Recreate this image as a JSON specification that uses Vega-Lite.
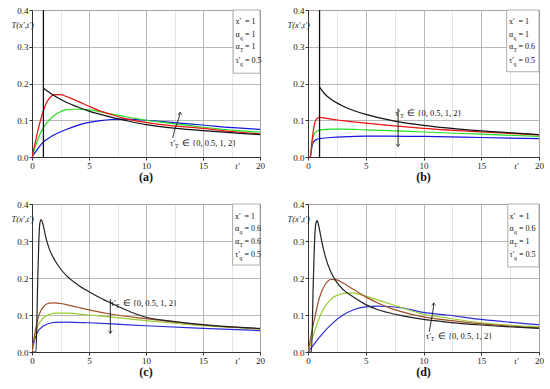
{
  "$schema": "https://vega.github.io/schema/vega-lite/v6.json",
  "padding": {"left": 10, "top": 5, "right": 0, "bottom": 0},
  "columns": 2,
  "bounds": "flush",
  "spacing": {"row": 47, "column": 48},
  "resolve": {"scale": {"color": "independent", "x": "independent", "y": "independent"}},
  "config": {
    "font": "Liberation Serif",
    "view": {"stroke": "#333", "strokeWidth": 1},
    "axis": {"labelFont": "Liberation Serif", "labelFontSize": 9, "labelColor": "#222", "titleFont": "Liberation Serif", "titleFontWeight": "normal", "titleFontStyle": "italic", "titleFontSize": 9, "titleColor": "#222", "gridColor": "#b0b0b0", "gridWidth": 0.9, "domainColor": "#333", "tickColor": "#333", "tickSize": 3, "labelPadding": 1},
    "title": {"orient": "bottom", "font": "Liberation Serif", "fontSize": 12, "fontWeight": "bold", "anchor": "middle", "offset": 2, "color": "#111"},
    "text": {"font": "Liberation Serif", "color": "#111"}
  },
  "datasets": {
    "curves": [
      {"p":"a","s":"2","t":0,"T":0},{"p":"a","s":"2","t":0.5,"T":0.022},{"p":"a","s":"2","t":1,"T":0.041},{"p":"a","s":"2","t":1.5,"T":0.052},{"p":"a","s":"2","t":2,"T":0.061},{"p":"a","s":"2","t":3,"T":0.075},{"p":"a","s":"2","t":4,"T":0.086},{"p":"a","s":"2","t":5,"T":0.094},{"p":"a","s":"2","t":6,"T":0.099},{"p":"a","s":"2","t":7,"T":0.102},{"p":"a","s":"2","t":8,"T":0.103},{"p":"a","s":"2","t":10,"T":0.1},{"p":"a","s":"2","t":12,"T":0.095},{"p":"a","s":"2","t":15,"T":0.087},{"p":"a","s":"2","t":18,"T":0.079},{"p":"a","s":"2","t":20,"T":0.075},
      {"p":"a","s":"1","t":0,"T":0},{"p":"a","s":"1","t":0.25,"T":0.025},{"p":"a","s":"1","t":0.5,"T":0.047},{"p":"a","s":"1","t":1,"T":0.08},{"p":"a","s":"1","t":1.5,"T":0.1},{"p":"a","s":"1","t":2,"T":0.114},{"p":"a","s":"1","t":2.5,"T":0.123},{"p":"a","s":"1","t":3,"T":0.128},{"p":"a","s":"1","t":3.5,"T":0.13},{"p":"a","s":"1","t":4,"T":0.13},{"p":"a","s":"1","t":5,"T":0.128},{"p":"a","s":"1","t":6,"T":0.123},{"p":"a","s":"1","t":7,"T":0.117},{"p":"a","s":"1","t":8,"T":0.111},{"p":"a","s":"1","t":10,"T":0.1},{"p":"a","s":"1","t":12,"T":0.092},{"p":"a","s":"1","t":15,"T":0.081},{"p":"a","s":"1","t":18,"T":0.072},{"p":"a","s":"1","t":20,"T":0.068},
      {"p":"a","s":"0.5","t":0,"T":0},{"p":"a","s":"0.5","t":0.25,"T":0.035},{"p":"a","s":"0.5","t":0.5,"T":0.07},{"p":"a","s":"0.5","t":0.75,"T":0.1},{"p":"a","s":"0.5","t":1,"T":0.126},{"p":"a","s":"0.5","t":1.25,"T":0.146},{"p":"a","s":"0.5","t":1.5,"T":0.159},{"p":"a","s":"0.5","t":2,"T":0.17},{"p":"a","s":"0.5","t":2.5,"T":0.17},{"p":"a","s":"0.5","t":3,"T":0.165},{"p":"a","s":"0.5","t":4,"T":0.152},{"p":"a","s":"0.5","t":5,"T":0.138},{"p":"a","s":"0.5","t":6,"T":0.125},{"p":"a","s":"0.5","t":7,"T":0.115},{"p":"a","s":"0.5","t":8,"T":0.106},{"p":"a","s":"0.5","t":10,"T":0.094},{"p":"a","s":"0.5","t":12,"T":0.086},{"p":"a","s":"0.5","t":15,"T":0.078},{"p":"a","s":"0.5","t":18,"T":0.068},{"p":"a","s":"0.5","t":20,"T":0.063},
      {"p":"a","s":"0","t":1,"T":0.187},{"p":"a","s":"0","t":1.5,"T":0.176},{"p":"a","s":"0","t":2,"T":0.166},{"p":"a","s":"0","t":2.5,"T":0.157},{"p":"a","s":"0","t":3,"T":0.149},{"p":"a","s":"0","t":4,"T":0.136},{"p":"a","s":"0","t":5,"T":0.125},{"p":"a","s":"0","t":6,"T":0.116},{"p":"a","s":"0","t":7,"T":0.108},{"p":"a","s":"0","t":8,"T":0.101},{"p":"a","s":"0","t":10,"T":0.088},{"p":"a","s":"0","t":12,"T":0.08},{"p":"a","s":"0","t":15,"T":0.072},{"p":"a","s":"0","t":18,"T":0.065},{"p":"a","s":"0","t":20,"T":0.061},

      {"p":"b","s":"2","t":0,"T":0},{"p":"b","s":"2","t":0.2,"T":0},{"p":"b","s":"2","t":0.35,"T":0.03},{"p":"b","s":"2","t":0.5,"T":0.042},{"p":"b","s":"2","t":0.75,"T":0.048},{"p":"b","s":"2","t":1,"T":0.05},{"p":"b","s":"2","t":2,"T":0.053},{"p":"b","s":"2","t":3,"T":0.055},{"p":"b","s":"2","t":5,"T":0.057},{"p":"b","s":"2","t":7,"T":0.057},{"p":"b","s":"2","t":10,"T":0.056},{"p":"b","s":"2","t":15,"T":0.053},{"p":"b","s":"2","t":20,"T":0.05},
      {"p":"b","s":"1","t":0,"T":0},{"p":"b","s":"1","t":0.2,"T":0},{"p":"b","s":"1","t":0.35,"T":0.04},{"p":"b","s":"1","t":0.5,"T":0.06},{"p":"b","s":"1","t":0.75,"T":0.07},{"p":"b","s":"1","t":1,"T":0.073},{"p":"b","s":"1","t":1.5,"T":0.075},{"p":"b","s":"1","t":2,"T":0.076},{"p":"b","s":"1","t":3,"T":0.076},{"p":"b","s":"1","t":5,"T":0.074},{"p":"b","s":"1","t":7,"T":0.072},{"p":"b","s":"1","t":10,"T":0.068},{"p":"b","s":"1","t":15,"T":0.062},{"p":"b","s":"1","t":20,"T":0.056},
      {"p":"b","s":"0.5","t":0,"T":0},{"p":"b","s":"0.5","t":0.2,"T":0},{"p":"b","s":"0.5","t":0.35,"T":0.045},{"p":"b","s":"0.5","t":0.5,"T":0.08},{"p":"b","s":"0.5","t":0.75,"T":0.104},{"p":"b","s":"0.5","t":1,"T":0.108},{"p":"b","s":"0.5","t":1.5,"T":0.106},{"p":"b","s":"0.5","t":2,"T":0.103},{"p":"b","s":"0.5","t":3,"T":0.099},{"p":"b","s":"0.5","t":5,"T":0.092},{"p":"b","s":"0.5","t":7,"T":0.086},{"p":"b","s":"0.5","t":10,"T":0.078},{"p":"b","s":"0.5","t":15,"T":0.068},{"p":"b","s":"0.5","t":20,"T":0.06},
      {"p":"b","s":"0","t":1,"T":0.19},{"p":"b","s":"0","t":1.5,"T":0.17},{"p":"b","s":"0","t":2,"T":0.157},{"p":"b","s":"0","t":3,"T":0.139},{"p":"b","s":"0","t":4,"T":0.126},{"p":"b","s":"0","t":5,"T":0.116},{"p":"b","s":"0","t":6,"T":0.108},{"p":"b","s":"0","t":7,"T":0.101},{"p":"b","s":"0","t":8,"T":0.095},{"p":"b","s":"0","t":10,"T":0.086},{"p":"b","s":"0","t":12,"T":0.079},{"p":"b","s":"0","t":15,"T":0.071},{"p":"b","s":"0","t":18,"T":0.065},{"p":"b","s":"0","t":20,"T":0.061},

      {"p":"c","s":"2","t":0,"T":0},{"p":"c","s":"2","t":0.25,"T":0.035},{"p":"c","s":"2","t":0.5,"T":0.055},{"p":"c","s":"2","t":1,"T":0.07},{"p":"c","s":"2","t":1.5,"T":0.077},{"p":"c","s":"2","t":2,"T":0.08},{"p":"c","s":"2","t":3,"T":0.081},{"p":"c","s":"2","t":5,"T":0.079},{"p":"c","s":"2","t":7,"T":0.076},{"p":"c","s":"2","t":10,"T":0.071},{"p":"c","s":"2","t":15,"T":0.064},{"p":"c","s":"2","t":20,"T":0.058},
      {"p":"c","s":"1","t":0,"T":0},{"p":"c","s":"1","t":0.25,"T":0.045},{"p":"c","s":"1","t":0.5,"T":0.07},{"p":"c","s":"1","t":1,"T":0.092},{"p":"c","s":"1","t":1.5,"T":0.101},{"p":"c","s":"1","t":2,"T":0.105},{"p":"c","s":"1","t":3,"T":0.105},{"p":"c","s":"1","t":5,"T":0.1},{"p":"c","s":"1","t":7,"T":0.094},{"p":"c","s":"1","t":10,"T":0.085},{"p":"c","s":"1","t":12,"T":0.079},{"p":"c","s":"1","t":15,"T":0.071},{"p":"c","s":"1","t":20,"T":0.062},
      {"p":"c","s":"0.5","t":0,"T":0},{"p":"c","s":"0.5","t":0.25,"T":0.05},{"p":"c","s":"0.5","t":0.5,"T":0.088},{"p":"c","s":"0.5","t":0.75,"T":0.11},{"p":"c","s":"0.5","t":1,"T":0.122},{"p":"c","s":"0.5","t":1.5,"T":0.132},{"p":"c","s":"0.5","t":2,"T":0.133},{"p":"c","s":"0.5","t":2.5,"T":0.131},{"p":"c","s":"0.5","t":3,"T":0.128},{"p":"c","s":"0.5","t":4,"T":0.121},{"p":"c","s":"0.5","t":5,"T":0.114},{"p":"c","s":"0.5","t":7,"T":0.102},{"p":"c","s":"0.5","t":10,"T":0.09},{"p":"c","s":"0.5","t":12,"T":0.083},{"p":"c","s":"0.5","t":15,"T":0.073},{"p":"c","s":"0.5","t":20,"T":0.063},
      {"p":"c","s":"0","t":0,"T":0},{"p":"c","s":"0","t":0.35,"T":0},{"p":"c","s":"0","t":0.5,"T":0.19},{"p":"c","s":"0","t":0.6,"T":0.3},{"p":"c","s":"0","t":0.7,"T":0.35},{"p":"c","s":"0","t":0.8,"T":0.358},{"p":"c","s":"0","t":0.9,"T":0.352},{"p":"c","s":"0","t":1,"T":0.34},{"p":"c","s":"0","t":1.25,"T":0.305},{"p":"c","s":"0","t":1.5,"T":0.28},{"p":"c","s":"0","t":2,"T":0.248},{"p":"c","s":"0","t":2.5,"T":0.225},{"p":"c","s":"0","t":3,"T":0.207},{"p":"c","s":"0","t":4,"T":0.182},{"p":"c","s":"0","t":5,"T":0.163},{"p":"c","s":"0","t":6,"T":0.146},{"p":"c","s":"0","t":7,"T":0.131},{"p":"c","s":"0","t":8,"T":0.117},{"p":"c","s":"0","t":9,"T":0.104},{"p":"c","s":"0","t":10,"T":0.094},{"p":"c","s":"0","t":12,"T":0.084},{"p":"c","s":"0","t":15,"T":0.074},{"p":"c","s":"0","t":18,"T":0.067},{"p":"c","s":"0","t":20,"T":0.064},

      {"p":"d","s":"2","t":0,"T":0},{"p":"d","s":"2","t":0.5,"T":0.02},{"p":"d","s":"2","t":1,"T":0.04},{"p":"d","s":"2","t":1.5,"T":0.058},{"p":"d","s":"2","t":2,"T":0.074},{"p":"d","s":"2","t":3,"T":0.099},{"p":"d","s":"2","t":4,"T":0.115},{"p":"d","s":"2","t":5,"T":0.122},{"p":"d","s":"2","t":6,"T":0.124},{"p":"d","s":"2","t":7,"T":0.123},{"p":"d","s":"2","t":8,"T":0.12},{"p":"d","s":"2","t":10,"T":0.107},{"p":"d","s":"2","t":12,"T":0.1},{"p":"d","s":"2","t":15,"T":0.088},{"p":"d","s":"2","t":20,"T":0.074},
      {"p":"d","s":"1","t":0,"T":0},{"p":"d","s":"1","t":0.5,"T":0.05},{"p":"d","s":"1","t":1,"T":0.094},{"p":"d","s":"1","t":1.5,"T":0.124},{"p":"d","s":"1","t":2,"T":0.143},{"p":"d","s":"1","t":2.5,"T":0.153},{"p":"d","s":"1","t":3,"T":0.158},{"p":"d","s":"1","t":3.5,"T":0.16},{"p":"d","s":"1","t":4,"T":0.159},{"p":"d","s":"1","t":5,"T":0.151},{"p":"d","s":"1","t":6,"T":0.141},{"p":"d","s":"1","t":7,"T":0.131},{"p":"d","s":"1","t":8,"T":0.121},{"p":"d","s":"1","t":10,"T":0.102},{"p":"d","s":"1","t":12,"T":0.092},{"p":"d","s":"1","t":15,"T":0.079},{"p":"d","s":"1","t":20,"T":0.068},
      {"p":"d","s":"0.5","t":0,"T":0},{"p":"d","s":"0.5","t":0.5,"T":0.08},{"p":"d","s":"0.5","t":1,"T":0.148},{"p":"d","s":"0.5","t":1.5,"T":0.183},{"p":"d","s":"0.5","t":2,"T":0.196},{"p":"d","s":"0.5","t":2.5,"T":0.195},{"p":"d","s":"0.5","t":3,"T":0.187},{"p":"d","s":"0.5","t":4,"T":0.168},{"p":"d","s":"0.5","t":5,"T":0.149},{"p":"d","s":"0.5","t":6,"T":0.133},{"p":"d","s":"0.5","t":7,"T":0.12},{"p":"d","s":"0.5","t":8,"T":0.11},{"p":"d","s":"0.5","t":10,"T":0.095},{"p":"d","s":"0.5","t":12,"T":0.086},{"p":"d","s":"0.5","t":15,"T":0.076},{"p":"d","s":"0.5","t":20,"T":0.065},
      {"p":"d","s":"0","t":0,"T":0},{"p":"d","s":"0","t":0.3,"T":0},{"p":"d","s":"0","t":0.45,"T":0.18},{"p":"d","s":"0","t":0.6,"T":0.32},{"p":"d","s":"0","t":0.7,"T":0.35},{"p":"d","s":"0","t":0.8,"T":0.355},{"p":"d","s":"0","t":0.9,"T":0.345},{"p":"d","s":"0","t":1,"T":0.33},{"p":"d","s":"0","t":1.25,"T":0.29},{"p":"d","s":"0","t":1.5,"T":0.258},{"p":"d","s":"0","t":2,"T":0.215},{"p":"d","s":"0","t":2.5,"T":0.188},{"p":"d","s":"0","t":3,"T":0.17},{"p":"d","s":"0","t":4,"T":0.147},{"p":"d","s":"0","t":5,"T":0.128},{"p":"d","s":"0","t":6,"T":0.115},{"p":"d","s":"0","t":7,"T":0.106},{"p":"d","s":"0","t":8,"T":0.099},{"p":"d","s":"0","t":10,"T":0.088},{"p":"d","s":"0","t":12,"T":0.081},{"p":"d","s":"0","t":15,"T":0.073},{"p":"d","s":"0","t":18,"T":0.067},{"p":"d","s":"0","t":20,"T":0.064}
    ],
    "legend": [
      {"p":"a","t":17.85,"T":0.366,"m":"x′","sb":"","r":"= 1"},{"p":"a","t":17.85,"T":0.333,"m":"α","sb":"q","r":"= 1"},{"p":"a","t":17.85,"T":0.298,"m":"α","sb":"T","r":"= 1"},{"p":"a","t":17.85,"T":0.262,"m":"τ′","sb":"q","r":"= 0.5"},
      {"p":"b","t":17.4,"T":0.366,"m":"x′","sb":"","r":"= 1"},{"p":"b","t":17.4,"T":0.333,"m":"α","sb":"q","r":"= 1"},{"p":"b","t":17.4,"T":0.298,"m":"α","sb":"T","r":"= 0.6"},{"p":"b","t":17.4,"T":0.262,"m":"τ′","sb":"q","r":"= 0.5"},
      {"p":"c","t":17.8,"T":0.366,"m":"x′","sb":"","r":"= 1"},{"p":"c","t":17.8,"T":0.333,"m":"α","sb":"q","r":"= 0.6"},{"p":"c","t":17.8,"T":0.298,"m":"α","sb":"T","r":"= 0.6"},{"p":"c","t":17.8,"T":0.262,"m":"τ′","sb":"q","r":"= 0.5"},
      {"p":"d","t":17.45,"T":0.366,"m":"x′","sb":"","r":"= 1"},{"p":"d","t":17.45,"T":0.333,"m":"α","sb":"q","r":"= 0.6"},{"p":"d","t":17.45,"T":0.298,"m":"α","sb":"T","r":"= 1"},{"p":"d","t":17.45,"T":0.262,"m":"τ′","sb":"q","r":"= 0.5"}
    ],
    "notes": [
      {"p":"a","t":12.1,"T":0.038,"m":"τ′","sb":"T","r":"∈ {0, 0.5, 1, 2}"},
      {"p":"b","t":7.55,"T":0.12,"m":"τ′","sb":"T","r":"∈ {0, 0.5, 1, 2}"},
      {"p":"c","t":6.9,"T":0.132,"m":"τ′","sb":"T","r":"∈ {0, 0.5, 1, 2}"},
      {"p":"d","t":10.2,"T":0.044,"m":"τ′","sb":"T","r":"∈ {0, 0.5, 1, 2}"}
    ],
    "arrows": [
      {"p":"a","k":1,"t":12.35,"T":0.052},{"p":"a","k":2,"t":12.55,"T":0.08},{"p":"a","k":3,"t":12.85,"T":0.1},{"p":"a","k":4,"t":13.0,"T":0.122},
      {"p":"b","k":1,"t":7.8,"T":0.132},{"p":"b","k":2,"t":7.8,"T":0.028},
      {"p":"c","k":1,"t":6.87,"T":0.143},{"p":"c","k":2,"t":6.87,"T":0.05},
      {"p":"d","k":1,"t":10.5,"T":0.055},{"p":"d","k":2,"t":10.7,"T":0.09},{"p":"d","k":3,"t":10.85,"T":0.115},{"p":"d","k":4,"t":10.88,"T":0.133}
    ],
    "heads": [
      {"p":"a","t":13.0,"T":0.122,"dir":"up"},
      {"p":"b","t":7.8,"T":0.028,"dir":"down"},
      {"p":"c","t":6.87,"T":0.05,"dir":"down"},
      {"p":"d","t":10.88,"T":0.133,"dir":"up"}
    ]
  },
  "concat": [
    {
      "width": 228, "height": 147, "title": "(a)",
      "resolve": {"axis": {"x": "independent", "y": "independent"}},
      "layer": [
        {"data": {"name": "curves"}, "transform": [{"filter": "datum.p === 'a'"}],
         "mark": {"type": "line", "interpolate": "monotone", "strokeWidth": 1.2, "clip": true},
         "encoding": {
           "x": {"field": "t", "type": "quantitative", "scale": {"domain": [0, 20], "nice": false}, "axis": {"orient": "bottom", "values": [0, 5, 10, 15, 20], "labelFlush": false, "title": "t′", "titleX": 205, "titleY": 4, "titleBaseline": "top", "titleAlign": "center"}},
           "y": {"field": "T", "type": "quantitative", "scale": {"domain": [0, 0.4], "nice": false}, "axis": {"values": [0, 0.1, 0.2, 0.3, 0.4], "format": ".1f", "title": "T(x′,t′)", "titleAngle": 0, "titleAlign": "left", "titleBaseline": "middle", "titleX": -21, "titleY": 14, "titleFontSize": 8.5}},
           "color": {"field": "s", "type": "nominal", "scale": {"domain": ["0", "0.5", "1", "2"], "range": ["#111111", "#ee1111", "#22e022", "#1515e0"]}, "legend": null}
         }},
        {"data": {"values": [{}]}, "mark": {"type": "rule", "color": "#111111", "strokeWidth": 1.3},
         "encoding": {"x": {"datum": 1, "type": "quantitative", "axis": null}, "y": {"datum": 0, "type": "quantitative", "axis": null}, "y2": {"datum": 0.4}}},
        {"data": {"values": [{}]}, "mark": {"type": "rect", "fill": "white", "stroke": "#999999", "strokeWidth": 0.8},
         "encoding": {"x": {"datum": 17.65, "type": "quantitative", "axis": {"orient": "top", "values": [2.5, 7.5, 12.5, 17.5], "grid": true, "gridColor": "#e4e4e4", "labels": false, "ticks": false, "domain": false, "title": null}}, "x2": {"datum": 20}, "y": {"datum": 0.228, "type": "quantitative", "axis": null}, "y2": {"datum": 0.4}}},
        {"data": {"name": "legend"}, "transform": [{"filter": "datum.p === 'a'"}], "mark": {"type": "text", "align": "left", "baseline": "middle", "fontSize": 8},
         "encoding": {"x": {"field": "t", "type": "quantitative", "axis": null}, "y": {"field": "T", "type": "quantitative", "axis": null}, "text": {"field": "m"}}},
        {"data": {"name": "legend"}, "transform": [{"filter": "datum.p === 'a'"}], "mark": {"type": "text", "align": "left", "baseline": "middle", "fontSize": 5.5, "dx": 4.5, "dy": 3},
         "encoding": {"x": {"field": "t", "type": "quantitative", "axis": null}, "y": {"field": "T", "type": "quantitative", "axis": null}, "text": {"field": "sb"}}},
        {"data": {"name": "legend"}, "transform": [{"filter": "datum.p === 'a'"}], "mark": {"type": "text", "align": "left", "baseline": "middle", "fontSize": 8, "dx": 9.5},
         "encoding": {"x": {"field": "t", "type": "quantitative", "axis": null}, "y": {"field": "T", "type": "quantitative", "axis": null}, "text": {"field": "r"}}},
        {"data": {"name": "arrows"}, "transform": [{"filter": "datum.p === 'a'"}], "mark": {"type": "line", "interpolate": "basis", "color": "#111111", "strokeWidth": 0.9},
         "encoding": {"x": {"field": "t", "type": "quantitative", "axis": null}, "y": {"field": "T", "type": "quantitative", "axis": null}, "order": {"field": "k"}}},
        {"data": {"name": "heads"}, "transform": [{"filter": "datum.p === 'a'"}], "mark": {"type": "point", "filled": false, "color": "#111111", "strokeWidth": 0.9, "size": 40},
         "encoding": {"x": {"field": "t", "type": "quantitative", "axis": null}, "y": {"field": "T", "type": "quantitative", "axis": null}, "shape": {"field": "dir", "type": "nominal", "scale": {"domain": ["up", "down"], "range": ["M-0.6,0.9L0,0L0.6,0.9", "M-0.6,-0.9L0,0L0.6,-0.9"]}, "legend": null}}},
        {"data": {"name": "notes"}, "transform": [{"filter": "datum.p === 'a'"}], "mark": {"type": "text", "align": "left", "baseline": "middle", "fontSize": 8.5},
         "encoding": {"x": {"field": "t", "type": "quantitative", "axis": null}, "y": {"field": "T", "type": "quantitative", "axis": null}, "text": {"field": "m"}}},
        {"data": {"name": "notes"}, "transform": [{"filter": "datum.p === 'a'"}], "mark": {"type": "text", "align": "left", "baseline": "middle", "fontSize": 6, "dx": 5, "dy": 3},
         "encoding": {"x": {"field": "t", "type": "quantitative", "axis": null}, "y": {"field": "T", "type": "quantitative", "axis": null}, "text": {"field": "sb"}}},
        {"data": {"name": "notes"}, "transform": [{"filter": "datum.p === 'a'"}], "mark": {"type": "text", "align": "left", "baseline": "middle", "fontSize": 8.5, "dx": 12},
         "encoding": {"x": {"field": "t", "type": "quantitative", "axis": null}, "y": {"field": "T", "type": "quantitative", "axis": null}, "text": {"field": "r"}}}
      ]
    },
    {
      "width": 231, "height": 147, "title": "(b)",
      "resolve": {"axis": {"x": "independent", "y": "independent"}},
      "layer": [
        {"data": {"name": "curves"}, "transform": [{"filter": "datum.p === 'b'"}],
         "mark": {"type": "line", "interpolate": "monotone", "strokeWidth": 1.2, "clip": true},
         "encoding": {
           "x": {"field": "t", "type": "quantitative", "scale": {"domain": [0, 20], "nice": false}, "axis": {"orient": "bottom", "values": [0, 5, 10, 15, 20], "labelFlush": false, "title": "t′", "titleX": 208, "titleY": 4, "titleBaseline": "top", "titleAlign": "center"}},
           "y": {"field": "T", "type": "quantitative", "scale": {"domain": [0, 0.4], "nice": false}, "axis": {"values": [0, 0.1, 0.2, 0.3, 0.4], "format": ".1f", "title": "T(x′,t′)", "titleAngle": 0, "titleAlign": "left", "titleBaseline": "middle", "titleX": -21, "titleY": 14, "titleFontSize": 8.5}},
           "color": {"field": "s", "type": "nominal", "scale": {"domain": ["0", "0.5", "1", "2"], "range": ["#111111", "#ee1111", "#22e022", "#1515e0"]}, "legend": null}
         }},
        {"data": {"values": [{}]}, "mark": {"type": "rule", "color": "#111111", "strokeWidth": 1.3},
         "encoding": {"x": {"datum": 1, "type": "quantitative", "axis": null}, "y": {"datum": 0, "type": "quantitative", "axis": null}, "y2": {"datum": 0.4}}},
        {"data": {"values": [{}]}, "mark": {"type": "rect", "fill": "white", "stroke": "#999999", "strokeWidth": 0.8},
         "encoding": {"x": {"datum": 17.2, "type": "quantitative", "axis": {"orient": "top", "values": [2.5, 7.5, 12.5, 17.5], "grid": true, "gridColor": "#e4e4e4", "labels": false, "ticks": false, "domain": false, "title": null}}, "x2": {"datum": 20}, "y": {"datum": 0.232, "type": "quantitative", "axis": null}, "y2": {"datum": 0.4}}},
        {"data": {"name": "legend"}, "transform": [{"filter": "datum.p === 'b'"}], "mark": {"type": "text", "align": "left", "baseline": "middle", "fontSize": 8},
         "encoding": {"x": {"field": "t", "type": "quantitative", "axis": null}, "y": {"field": "T", "type": "quantitative", "axis": null}, "text": {"field": "m"}}},
        {"data": {"name": "legend"}, "transform": [{"filter": "datum.p === 'b'"}], "mark": {"type": "text", "align": "left", "baseline": "middle", "fontSize": 5.5, "dx": 4.5, "dy": 3},
         "encoding": {"x": {"field": "t", "type": "quantitative", "axis": null}, "y": {"field": "T", "type": "quantitative", "axis": null}, "text": {"field": "sb"}}},
        {"data": {"name": "legend"}, "transform": [{"filter": "datum.p === 'b'"}], "mark": {"type": "text", "align": "left", "baseline": "middle", "fontSize": 8, "dx": 9.5},
         "encoding": {"x": {"field": "t", "type": "quantitative", "axis": null}, "y": {"field": "T", "type": "quantitative", "axis": null}, "text": {"field": "r"}}},
        {"data": {"name": "arrows"}, "transform": [{"filter": "datum.p === 'b'"}], "mark": {"type": "line", "interpolate": "basis", "color": "#111111", "strokeWidth": 0.9},
         "encoding": {"x": {"field": "t", "type": "quantitative", "axis": null}, "y": {"field": "T", "type": "quantitative", "axis": null}, "order": {"field": "k"}}},
        {"data": {"name": "heads"}, "transform": [{"filter": "datum.p === 'b'"}], "mark": {"type": "point", "filled": false, "color": "#111111", "strokeWidth": 0.9, "size": 40},
         "encoding": {"x": {"field": "t", "type": "quantitative", "axis": null}, "y": {"field": "T", "type": "quantitative", "axis": null}, "shape": {"field": "dir", "type": "nominal", "scale": {"domain": ["up", "down"], "range": ["M-0.6,0.9L0,0L0.6,0.9", "M-0.6,-0.9L0,0L0.6,-0.9"]}, "legend": null}}},
        {"data": {"name": "notes"}, "transform": [{"filter": "datum.p === 'b'"}], "mark": {"type": "text", "align": "left", "baseline": "middle", "fontSize": 8.5},
         "encoding": {"x": {"field": "t", "type": "quantitative", "axis": null}, "y": {"field": "T", "type": "quantitative", "axis": null}, "text": {"field": "m"}}},
        {"data": {"name": "notes"}, "transform": [{"filter": "datum.p === 'b'"}], "mark": {"type": "text", "align": "left", "baseline": "middle", "fontSize": 6, "dx": 5, "dy": 3},
         "encoding": {"x": {"field": "t", "type": "quantitative", "axis": null}, "y": {"field": "T", "type": "quantitative", "axis": null}, "text": {"field": "sb"}}},
        {"data": {"name": "notes"}, "transform": [{"filter": "datum.p === 'b'"}], "mark": {"type": "text", "align": "left", "baseline": "middle", "fontSize": 8.5, "dx": 12},
         "encoding": {"x": {"field": "t", "type": "quantitative", "axis": null}, "y": {"field": "T", "type": "quantitative", "axis": null}, "text": {"field": "r"}}}
      ]
    },
    {
      "width": 228, "height": 148, "title": "(c)",
      "resolve": {"axis": {"x": "independent", "y": "independent"}},
      "layer": [
        {"data": {"name": "curves"}, "transform": [{"filter": "datum.p === 'c'"}],
         "mark": {"type": "line", "interpolate": "monotone", "strokeWidth": 1.2, "clip": true},
         "encoding": {
           "x": {"field": "t", "type": "quantitative", "scale": {"domain": [0, 20], "nice": false}, "axis": {"orient": "bottom", "values": [0, 5, 10, 15, 20], "labelFlush": false, "title": "t′", "titleX": 205, "titleY": 4, "titleBaseline": "top", "titleAlign": "center"}},
           "y": {"field": "T", "type": "quantitative", "scale": {"domain": [0, 0.4], "nice": false}, "axis": {"values": [0, 0.1, 0.2, 0.3, 0.4], "format": ".1f", "title": "T(x′,t′)", "titleAngle": 0, "titleAlign": "left", "titleBaseline": "middle", "titleX": -21, "titleY": 14, "titleFontSize": 8.5}},
           "color": {"field": "s", "type": "nominal", "scale": {"domain": ["0", "0.5", "1", "2"], "range": ["#222222", "#a0502a", "#99cc33", "#2d2dd6"]}, "legend": null}
         }},
        {"data": {"values": [{}]}, "mark": {"type": "rect", "fill": "white", "stroke": "#999999", "strokeWidth": 0.8},
         "encoding": {"x": {"datum": 17.6, "type": "quantitative", "axis": {"orient": "top", "values": [2.5, 7.5, 12.5, 17.5], "grid": true, "gridColor": "#e4e4e4", "labels": false, "ticks": false, "domain": false, "title": null}}, "x2": {"datum": 20}, "y": {"datum": 0.235, "type": "quantitative", "axis": null}, "y2": {"datum": 0.4}}},
        {"data": {"name": "legend"}, "transform": [{"filter": "datum.p === 'c'"}], "mark": {"type": "text", "align": "left", "baseline": "middle", "fontSize": 8},
         "encoding": {"x": {"field": "t", "type": "quantitative", "axis": null}, "y": {"field": "T", "type": "quantitative", "axis": null}, "text": {"field": "m"}}},
        {"data": {"name": "legend"}, "transform": [{"filter": "datum.p === 'c'"}], "mark": {"type": "text", "align": "left", "baseline": "middle", "fontSize": 5.5, "dx": 4.5, "dy": 3},
         "encoding": {"x": {"field": "t", "type": "quantitative", "axis": null}, "y": {"field": "T", "type": "quantitative", "axis": null}, "text": {"field": "sb"}}},
        {"data": {"name": "legend"}, "transform": [{"filter": "datum.p === 'c'"}], "mark": {"type": "text", "align": "left", "baseline": "middle", "fontSize": 8, "dx": 9.5},
         "encoding": {"x": {"field": "t", "type": "quantitative", "axis": null}, "y": {"field": "T", "type": "quantitative", "axis": null}, "text": {"field": "r"}}},
        {"data": {"name": "arrows"}, "transform": [{"filter": "datum.p === 'c'"}], "mark": {"type": "line", "interpolate": "basis", "color": "#111111", "strokeWidth": 0.9},
         "encoding": {"x": {"field": "t", "type": "quantitative", "axis": null}, "y": {"field": "T", "type": "quantitative", "axis": null}, "order": {"field": "k"}}},
        {"data": {"name": "heads"}, "transform": [{"filter": "datum.p === 'c'"}], "mark": {"type": "point", "filled": false, "color": "#111111", "strokeWidth": 0.9, "size": 40},
         "encoding": {"x": {"field": "t", "type": "quantitative", "axis": null}, "y": {"field": "T", "type": "quantitative", "axis": null}, "shape": {"field": "dir", "type": "nominal", "scale": {"domain": ["up", "down"], "range": ["M-0.6,0.9L0,0L0.6,0.9", "M-0.6,-0.9L0,0L0.6,-0.9"]}, "legend": null}}},
        {"data": {"name": "notes"}, "transform": [{"filter": "datum.p === 'c'"}], "mark": {"type": "text", "align": "left", "baseline": "middle", "fontSize": 8.5},
         "encoding": {"x": {"field": "t", "type": "quantitative", "axis": null}, "y": {"field": "T", "type": "quantitative", "axis": null}, "text": {"field": "m"}}},
        {"data": {"name": "notes"}, "transform": [{"filter": "datum.p === 'c'"}], "mark": {"type": "text", "align": "left", "baseline": "middle", "fontSize": 6, "dx": 5, "dy": 3},
         "encoding": {"x": {"field": "t", "type": "quantitative", "axis": null}, "y": {"field": "T", "type": "quantitative", "axis": null}, "text": {"field": "sb"}}},
        {"data": {"name": "notes"}, "transform": [{"filter": "datum.p === 'c'"}], "mark": {"type": "text", "align": "left", "baseline": "middle", "fontSize": 8.5, "dx": 12},
         "encoding": {"x": {"field": "t", "type": "quantitative", "axis": null}, "y": {"field": "T", "type": "quantitative", "axis": null}, "text": {"field": "r"}}}
      ]
    },
    {
      "width": 231, "height": 148, "title": "(d)",
      "resolve": {"axis": {"x": "independent", "y": "independent"}},
      "layer": [
        {"data": {"name": "curves"}, "transform": [{"filter": "datum.p === 'd'"}],
         "mark": {"type": "line", "interpolate": "monotone", "strokeWidth": 1.2, "clip": true},
         "encoding": {
           "x": {"field": "t", "type": "quantitative", "scale": {"domain": [0, 20], "nice": false}, "axis": {"orient": "bottom", "values": [0, 5, 10, 15, 20], "labelFlush": false, "title": "t′", "titleX": 208, "titleY": 4, "titleBaseline": "top", "titleAlign": "center"}},
           "y": {"field": "T", "type": "quantitative", "scale": {"domain": [0, 0.4], "nice": false}, "axis": {"values": [0, 0.1, 0.2, 0.3, 0.4], "format": ".1f", "title": "T(x′,t′)", "titleAngle": 0, "titleAlign": "left", "titleBaseline": "middle", "titleX": -21, "titleY": 14, "titleFontSize": 8.5}},
           "color": {"field": "s", "type": "nominal", "scale": {"domain": ["0", "0.5", "1", "2"], "range": ["#222222", "#a0502a", "#99cc33", "#2d2dd6"]}, "legend": null}
         }},
        {"data": {"values": [{}]}, "mark": {"type": "rect", "fill": "white", "stroke": "#999999", "strokeWidth": 0.8},
         "encoding": {"x": {"datum": 17.3, "type": "quantitative", "axis": {"orient": "top", "values": [2.5, 7.5, 12.5, 17.5], "grid": true, "gridColor": "#e4e4e4", "labels": false, "ticks": false, "domain": false, "title": null}}, "x2": {"datum": 20}, "y": {"datum": 0.23, "type": "quantitative", "axis": null}, "y2": {"datum": 0.4}}},
        {"data": {"name": "legend"}, "transform": [{"filter": "datum.p === 'd'"}], "mark": {"type": "text", "align": "left", "baseline": "middle", "fontSize": 8},
         "encoding": {"x": {"field": "t", "type": "quantitative", "axis": null}, "y": {"field": "T", "type": "quantitative", "axis": null}, "text": {"field": "m"}}},
        {"data": {"name": "legend"}, "transform": [{"filter": "datum.p === 'd'"}], "mark": {"type": "text", "align": "left", "baseline": "middle", "fontSize": 5.5, "dx": 4.5, "dy": 3},
         "encoding": {"x": {"field": "t", "type": "quantitative", "axis": null}, "y": {"field": "T", "type": "quantitative", "axis": null}, "text": {"field": "sb"}}},
        {"data": {"name": "legend"}, "transform": [{"filter": "datum.p === 'd'"}], "mark": {"type": "text", "align": "left", "baseline": "middle", "fontSize": 8, "dx": 9.5},
         "encoding": {"x": {"field": "t", "type": "quantitative", "axis": null}, "y": {"field": "T", "type": "quantitative", "axis": null}, "text": {"field": "r"}}},
        {"data": {"name": "arrows"}, "transform": [{"filter": "datum.p === 'd'"}], "mark": {"type": "line", "interpolate": "basis", "color": "#111111", "strokeWidth": 0.9},
         "encoding": {"x": {"field": "t", "type": "quantitative", "axis": null}, "y": {"field": "T", "type": "quantitative", "axis": null}, "order": {"field": "k"}}},
        {"data": {"name": "heads"}, "transform": [{"filter": "datum.p === 'd'"}], "mark": {"type": "point", "filled": false, "color": "#111111", "strokeWidth": 0.9, "size": 40},
         "encoding": {"x": {"field": "t", "type": "quantitative", "axis": null}, "y": {"field": "T", "type": "quantitative", "axis": null}, "shape": {"field": "dir", "type": "nominal", "scale": {"domain": ["up", "down"], "range": ["M-0.6,0.9L0,0L0.6,0.9", "M-0.6,-0.9L0,0L0.6,-0.9"]}, "legend": null}}},
        {"data": {"name": "notes"}, "transform": [{"filter": "datum.p === 'd'"}], "mark": {"type": "text", "align": "left", "baseline": "middle", "fontSize": 8.5},
         "encoding": {"x": {"field": "t", "type": "quantitative", "axis": null}, "y": {"field": "T", "type": "quantitative", "axis": null}, "text": {"field": "m"}}},
        {"data": {"name": "notes"}, "transform": [{"filter": "datum.p === 'd'"}], "mark": {"type": "text", "align": "left", "baseline": "middle", "fontSize": 6, "dx": 5, "dy": 3},
         "encoding": {"x": {"field": "t", "type": "quantitative", "axis": null}, "y": {"field": "T", "type": "quantitative", "axis": null}, "text": {"field": "sb"}}},
        {"data": {"name": "notes"}, "transform": [{"filter": "datum.p === 'd'"}], "mark": {"type": "text", "align": "left", "baseline": "middle", "fontSize": 8.5, "dx": 12},
         "encoding": {"x": {"field": "t", "type": "quantitative", "axis": null}, "y": {"field": "T", "type": "quantitative", "axis": null}, "text": {"field": "r"}}}
      ]
    }
  ]
}
